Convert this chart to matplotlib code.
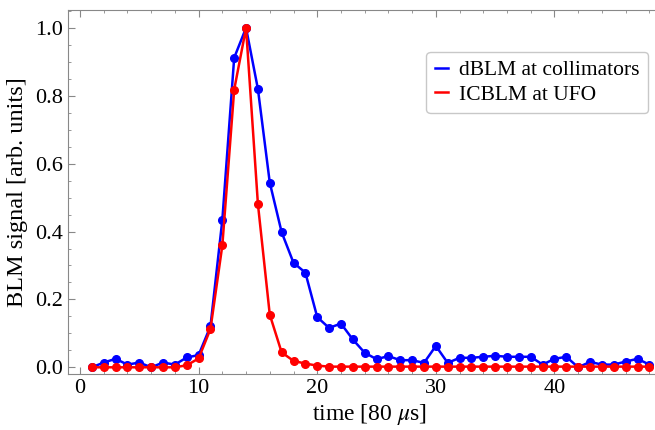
import matplotlib
matplotlib.use("Agg")
import matplotlib.pyplot as plt
from matplotlib.ticker import MultipleLocator

plt.rcParams['font.family'] = ['Liberation Serif', 'DejaVu Serif']
plt.rcParams['mathtext.fontset'] = 'stix'

t = list(range(1, 49))
dblm = [0.0, 0.014, 0.025, 0.008, 0.014, 0.0, 0.014, 0.008, 0.029, 0.036,
        0.121, 0.434, 0.912, 1.0, 0.82, 0.544, 0.398, 0.308, 0.279, 0.148,
        0.116, 0.129, 0.082, 0.043, 0.024, 0.033, 0.021, 0.021, 0.013, 0.063,
        0.013, 0.028, 0.028, 0.031, 0.034, 0.031, 0.031, 0.031, 0.008, 0.025,
        0.031, 0.0, 0.016, 0.008, 0.008, 0.017, 0.025, 0.008]
icblm = [0.0, 0.0, 0.0, 0.0, 0.0, 0.0, 0.0, 0.0, 0.006, 0.026,
         0.113, 0.359, 0.818, 1.0, 0.481, 0.155, 0.044, 0.019, 0.011, 0.005,
         0.002, 0.002, 0.002, 0.002, 0.002, 0.002, 0.002, 0.002, 0.002, 0.002,
         0.002, 0.002, 0.002, 0.002, 0.002, 0.002, 0.002, 0.002, 0.002, 0.002,
         0.002, 0.002, 0.002, 0.002, 0.002, 0.002, 0.002, 0.002]

fig = plt.figure(figsize=(6.55, 4.3), dpi=100)
ax = fig.add_axes([0.104, 0.130, 0.92, 0.847])

ax.plot(t, dblm, '-o', color='#0000ff', lw=1.8, ms=5.5, label='dBLM at collimators')
ax.plot(t, icblm, '-o', color='#ff0000', lw=1.8, ms=5.5, label='ICBLM at UFO')

ax.set_xlim(-1, 49.8)
ax.set_ylim(-0.02, 1.053)
ax.xaxis.set_major_locator(MultipleLocator(10))
ax.xaxis.set_minor_locator(MultipleLocator(2))
ax.yaxis.set_major_locator(MultipleLocator(0.2))
ax.yaxis.set_minor_locator(MultipleLocator(0.05))
ax.yaxis.set_major_formatter(plt.FuncFormatter(lambda v, p: '%.1f' % v))

for s in ['left', 'bottom', 'top']:
    ax.spines[s].set_color('#888888')
ax.spines['right'].set_visible(False)
ax.tick_params(which='both', direction='in', top=True, right=False, color='#888888')
ax.tick_params(which='major', length=5, labelsize=16)
ax.tick_params(which='minor', length=2.5)

ax.set_xlabel(r'time [80 $\mu$s]', fontsize=17, labelpad=3)
ax.set_ylabel('BLM signal [arb. units]', fontsize=17.5, labelpad=5)

leg = ax.legend(loc='upper right', bbox_to_anchor=(0.962, 0.885), borderaxespad=0,
                fontsize=15.5, handlelength=0.6, handletextpad=0.5, borderpad=0.4,
                labelspacing=0.2, fancybox=True, edgecolor='#bbbbbb')
for h in leg.legend_handles:
    h.set_marker('')

fig.savefig('out.png', dpi=100)
